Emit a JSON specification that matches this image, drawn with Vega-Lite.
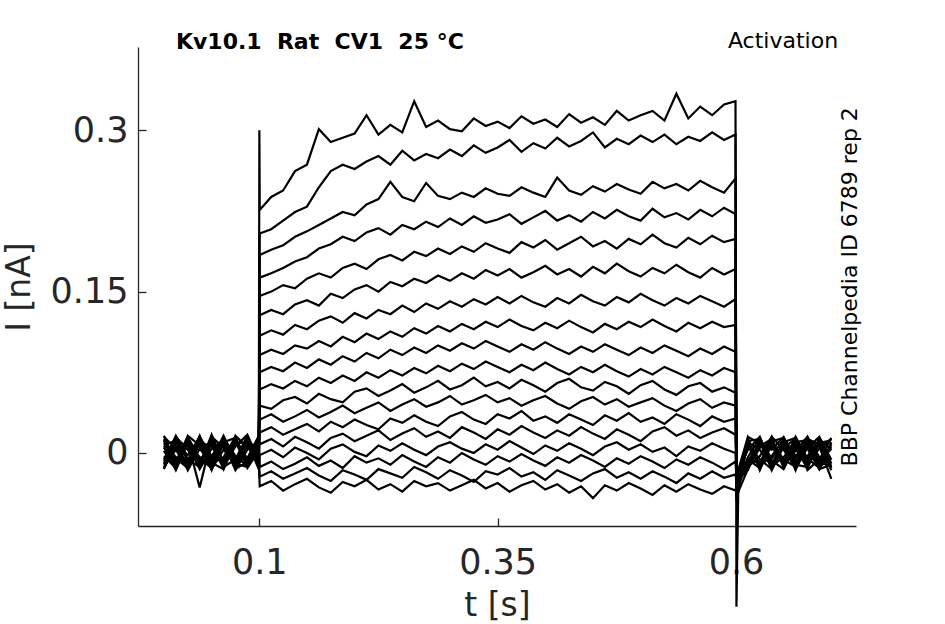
{
  "$schema": "https://vega.github.io/schema/vega-lite/v6.json",
  "width": 718,
  "height": 479,
  "autosize": {"type": "none"},
  "padding": {"left": 138, "top": 47, "right": 89, "bottom": 98},
  "config": {
    "view": {"stroke": null},
    "font": "DejaVu Sans",
    "axis": {
      "grid": false,
      "domainColor": "#262626",
      "domainWidth": 1.3,
      "tickColor": "#262626",
      "tickWidth": 1.3,
      "tickSize": -8,
      "labelColor": "#262626",
      "titleColor": "#262626",
      "labelFont": "DejaVu Sans",
      "titleFont": "DejaVu Sans",
      "labelFontSize": 35,
      "titleFontSize": 33,
      "titleFontWeight": "normal"
    }
  },
  "layer": [
    {
      "data": {"values": [
{"k":1,"t":0,"i":0.005},{"k":1,"t":0.0125,"i":-0.012},{"k":1,"t":0.025,"i":0.014},{"k":1,"t":0.0375,"i":-0.008},{"k":1,"t":0.05,"i":0.01},{"k":1,"t":0.0625,"i":-0.015},{"k":1,"t":0.075,"i":0.012},{"k":1,"t":0.0875,"i":-0.006},{"k":1,"t":0.0995,"i":0.009},{"k":1,"t":0.1001,"i":0.3},
{"k":1,"t":0.1005,"i":0.226},{"k":1,"t":0.1125,"i":0.238},{"k":1,"t":0.125,"i":0.244},{"k":1,"t":0.1375,"i":0.262},{"k":1,"t":0.15,"i":0.268},{"k":1,"t":0.1625,"i":0.301},{"k":1,"t":0.175,"i":0.289},{"k":1,"t":0.1875,"i":0.293},{"k":1,"t":0.2,"i":0.297},{"k":1,"t":0.2125,"i":0.314},{"k":1,"t":0.225,"i":0.296},{"k":1,"t":0.2375,"i":0.305},{"k":1,"t":0.25,"i":0.298},{"k":1,"t":0.2625,"i":0.327},{"k":1,"t":0.275,"i":0.303},{"k":1,"t":0.2875,"i":0.309},{"k":1,"t":0.3,"i":0.301},{"k":1,"t":0.3125,"i":0.299},{"k":1,"t":0.325,"i":0.311},{"k":1,"t":0.3375,"i":0.304},{"k":1,"t":0.35,"i":0.308},{"k":1,"t":0.3625,"i":0.302},{"k":1,"t":0.375,"i":0.313},{"k":1,"t":0.3875,"i":0.306},{"k":1,"t":0.4,"i":0.31},{"k":1,"t":0.4125,"i":0.303},{"k":1,"t":0.425,"i":0.315},{"k":1,"t":0.4375,"i":0.307},{"k":1,"t":0.45,"i":0.312},{"k":1,"t":0.4625,"i":0.305},{"k":1,"t":0.475,"i":0.318},{"k":1,"t":0.4875,"i":0.309},{"k":1,"t":0.5,"i":0.314},{"k":1,"t":0.5125,"i":0.318},{"k":1,"t":0.525,"i":0.309},{"k":1,"t":0.5375,"i":0.334},{"k":1,"t":0.55,"i":0.311},{"k":1,"t":0.5625,"i":0.322},{"k":1,"t":0.575,"i":0.314},{"k":1,"t":0.5875,"i":0.324},{"k":1,"t":0.5995,"i":0.327},
{"k":1,"t":0.6005,"i":-0.143},{"k":1,"t":0.6025,"i":-0.03},{"k":1,"t":0.6125,"i":-0.008},{"k":1,"t":0.625,"i":0.01},{"k":1,"t":0.6375,"i":-0.014},{"k":1,"t":0.65,"i":0.012},{"k":1,"t":0.6625,"i":-0.005},{"k":1,"t":0.675,"i":0.014},{"k":1,"t":0.6875,"i":-0.011},{"k":1,"t":0.7,"i":0.006},

{"k":2,"t":0,"i":-0.01},{"k":2,"t":0.0125,"i":0.013},{"k":2,"t":0.025,"i":-0.007},{"k":2,"t":0.0375,"i":0.016},{"k":2,"t":0.05,"i":-0.013},{"k":2,"t":0.0625,"i":0.008},{"k":2,"t":0.075,"i":-0.011},{"k":2,"t":0.0875,"i":0.015},{"k":2,"t":0.0995,"i":-0.004},
{"k":2,"t":0.1005,"i":0.204},{"k":2,"t":0.1125,"i":0.208},{"k":2,"t":0.125,"i":0.216},{"k":2,"t":0.1375,"i":0.224},{"k":2,"t":0.15,"i":0.229},{"k":2,"t":0.1625,"i":0.247},{"k":2,"t":0.175,"i":0.262},{"k":2,"t":0.1875,"i":0.268},{"k":2,"t":0.2,"i":0.264},{"k":2,"t":0.2125,"i":0.271},{"k":2,"t":0.225,"i":0.276},{"k":2,"t":0.2375,"i":0.268},{"k":2,"t":0.25,"i":0.281},{"k":2,"t":0.2625,"i":0.272},{"k":2,"t":0.275,"i":0.278},{"k":2,"t":0.2875,"i":0.274},{"k":2,"t":0.3,"i":0.282},{"k":2,"t":0.3125,"i":0.276},{"k":2,"t":0.325,"i":0.286},{"k":2,"t":0.3375,"i":0.279},{"k":2,"t":0.35,"i":0.284},{"k":2,"t":0.3625,"i":0.291},{"k":2,"t":0.375,"i":0.28},{"k":2,"t":0.3875,"i":0.288},{"k":2,"t":0.4,"i":0.283},{"k":2,"t":0.4125,"i":0.293},{"k":2,"t":0.425,"i":0.285},{"k":2,"t":0.4375,"i":0.29},{"k":2,"t":0.45,"i":0.298},{"k":2,"t":0.4625,"i":0.284},{"k":2,"t":0.475,"i":0.292},{"k":2,"t":0.4875,"i":0.287},{"k":2,"t":0.5,"i":0.295},{"k":2,"t":0.5125,"i":0.289},{"k":2,"t":0.525,"i":0.296},{"k":2,"t":0.5375,"i":0.287},{"k":2,"t":0.55,"i":0.294},{"k":2,"t":0.5625,"i":0.29},{"k":2,"t":0.575,"i":0.298},{"k":2,"t":0.5875,"i":0.291},{"k":2,"t":0.5995,"i":0.296},
{"k":2,"t":0.6005,"i":-0.045},{"k":2,"t":0.6125,"i":0.012},{"k":2,"t":0.625,"i":-0.013},{"k":2,"t":0.6375,"i":0.007},{"k":2,"t":0.65,"i":-0.009},{"k":2,"t":0.6625,"i":0.015},{"k":2,"t":0.675,"i":-0.006},{"k":2,"t":0.6875,"i":0.011},{"k":2,"t":0.7,"i":-0.014},

{"k":3,"t":0,"i":0.012},{"k":3,"t":0.0125,"i":-0.005},{"k":3,"t":0.025,"i":-0.014},{"k":3,"t":0.0375,"i":0.009},{"k":3,"t":0.05,"i":-0.008},{"k":3,"t":0.0625,"i":0.014},{"k":3,"t":0.075,"i":-0.003},{"k":3,"t":0.0875,"i":-0.012},{"k":3,"t":0.0995,"i":0.006},
{"k":3,"t":0.1005,"i":0.184},{"k":3,"t":0.1125,"i":0.189},{"k":3,"t":0.125,"i":0.193},{"k":3,"t":0.1375,"i":0.201},{"k":3,"t":0.15,"i":0.206},{"k":3,"t":0.1625,"i":0.212},{"k":3,"t":0.175,"i":0.218},{"k":3,"t":0.1875,"i":0.224},{"k":3,"t":0.2,"i":0.221},{"k":3,"t":0.2125,"i":0.231},{"k":3,"t":0.225,"i":0.236},{"k":3,"t":0.2375,"i":0.252},{"k":3,"t":0.25,"i":0.238},{"k":3,"t":0.2625,"i":0.234},{"k":3,"t":0.275,"i":0.251},{"k":3,"t":0.2875,"i":0.239},{"k":3,"t":0.3,"i":0.236},{"k":3,"t":0.3125,"i":0.242},{"k":3,"t":0.325,"i":0.238},{"k":3,"t":0.3375,"i":0.246},{"k":3,"t":0.35,"i":0.241},{"k":3,"t":0.3625,"i":0.239},{"k":3,"t":0.375,"i":0.247},{"k":3,"t":0.3875,"i":0.242},{"k":3,"t":0.4,"i":0.238},{"k":3,"t":0.4125,"i":0.256},{"k":3,"t":0.425,"i":0.244},{"k":3,"t":0.4375,"i":0.24},{"k":3,"t":0.45,"i":0.248},{"k":3,"t":0.4625,"i":0.243},{"k":3,"t":0.475,"i":0.25},{"k":3,"t":0.4875,"i":0.245},{"k":3,"t":0.5,"i":0.241},{"k":3,"t":0.5125,"i":0.252},{"k":3,"t":0.525,"i":0.246},{"k":3,"t":0.5375,"i":0.25},{"k":3,"t":0.55,"i":0.244},{"k":3,"t":0.5625,"i":0.253},{"k":3,"t":0.575,"i":0.247},{"k":3,"t":0.5875,"i":0.242},{"k":3,"t":0.5995,"i":0.255},
{"k":3,"t":0.6005,"i":-0.04},{"k":3,"t":0.6125,"i":-0.015},{"k":3,"t":0.625,"i":0.006},{"k":3,"t":0.6375,"i":0.013},{"k":3,"t":0.65,"i":-0.012},{"k":3,"t":0.6625,"i":0.004},{"k":3,"t":0.675,"i":-0.014},{"k":3,"t":0.6875,"i":0.009},{"k":3,"t":0.7,"i":0.012},

{"k":4,"t":0,"i":-0.006},{"k":4,"t":0.0125,"i":0.015},{"k":4,"t":0.025,"i":0.003},{"k":4,"t":0.0375,"i":-0.012},{"k":4,"t":0.05,"i":0.017},{"k":4,"t":0.0625,"i":-0.009},{"k":4,"t":0.075,"i":0.011},{"k":4,"t":0.0875,"i":-0.014},{"k":4,"t":0.0995,"i":0.002},
{"k":4,"t":0.1005,"i":0.163},{"k":4,"t":0.1125,"i":0.167},{"k":4,"t":0.125,"i":0.172},{"k":4,"t":0.1375,"i":0.178},{"k":4,"t":0.15,"i":0.182},{"k":4,"t":0.1625,"i":0.19},{"k":4,"t":0.175,"i":0.194},{"k":4,"t":0.1875,"i":0.201},{"k":4,"t":0.2,"i":0.197},{"k":4,"t":0.2125,"i":0.205},{"k":4,"t":0.225,"i":0.209},{"k":4,"t":0.2375,"i":0.203},{"k":4,"t":0.25,"i":0.212},{"k":4,"t":0.2625,"i":0.208},{"k":4,"t":0.275,"i":0.215},{"k":4,"t":0.2875,"i":0.21},{"k":4,"t":0.3,"i":0.218},{"k":4,"t":0.3125,"i":0.212},{"k":4,"t":0.325,"i":0.22},{"k":4,"t":0.3375,"i":0.214},{"k":4,"t":0.35,"i":0.217},{"k":4,"t":0.3625,"i":0.222},{"k":4,"t":0.375,"i":0.213},{"k":4,"t":0.3875,"i":0.219},{"k":4,"t":0.4,"i":0.225},{"k":4,"t":0.4125,"i":0.216},{"k":4,"t":0.425,"i":0.221},{"k":4,"t":0.4375,"i":0.215},{"k":4,"t":0.45,"i":0.224},{"k":4,"t":0.4625,"i":0.218},{"k":4,"t":0.475,"i":0.226},{"k":4,"t":0.4875,"i":0.22},{"k":4,"t":0.5,"i":0.216},{"k":4,"t":0.5125,"i":0.227},{"k":4,"t":0.525,"i":0.219},{"k":4,"t":0.5375,"i":0.223},{"k":4,"t":0.55,"i":0.217},{"k":4,"t":0.5625,"i":0.226},{"k":4,"t":0.575,"i":0.22},{"k":4,"t":0.5875,"i":0.228},{"k":4,"t":0.5995,"i":0.222},
{"k":4,"t":0.6005,"i":-0.038},{"k":4,"t":0.6125,"i":0.009},{"k":4,"t":0.625,"i":-0.006},{"k":4,"t":0.6375,"i":-0.015},{"k":4,"t":0.65,"i":0.011},{"k":4,"t":0.6625,"i":-0.01},{"k":4,"t":0.675,"i":0.015},{"k":4,"t":0.6875,"i":-0.004},{"k":4,"t":0.7,"i":-0.009},

{"k":5,"t":0,"i":0.016},{"k":5,"t":0.0125,"i":-0.009},{"k":5,"t":0.025,"i":0.008},{"k":5,"t":0.0375,"i":-0.015},{"k":5,"t":0.05,"i":0.004},{"k":5,"t":0.0625,"i":0.012},{"k":5,"t":0.075,"i":-0.013},{"k":5,"t":0.0875,"i":0.007},{"k":5,"t":0.0995,"i":-0.01},
{"k":5,"t":0.1005,"i":0.146},{"k":5,"t":0.1125,"i":0.15},{"k":5,"t":0.125,"i":0.156},{"k":5,"t":0.1375,"i":0.153},{"k":5,"t":0.15,"i":0.162},{"k":5,"t":0.1625,"i":0.167},{"k":5,"t":0.175,"i":0.163},{"k":5,"t":0.1875,"i":0.172},{"k":5,"t":0.2,"i":0.176},{"k":5,"t":0.2125,"i":0.171},{"k":5,"t":0.225,"i":0.18},{"k":5,"t":0.2375,"i":0.184},{"k":5,"t":0.25,"i":0.179},{"k":5,"t":0.2625,"i":0.187},{"k":5,"t":0.275,"i":0.183},{"k":5,"t":0.2875,"i":0.19},{"k":5,"t":0.3,"i":0.185},{"k":5,"t":0.3125,"i":0.192},{"k":5,"t":0.325,"i":0.187},{"k":5,"t":0.3375,"i":0.195},{"k":5,"t":0.35,"i":0.19},{"k":5,"t":0.3625,"i":0.186},{"k":5,"t":0.375,"i":0.196},{"k":5,"t":0.3875,"i":0.191},{"k":5,"t":0.4,"i":0.198},{"k":5,"t":0.4125,"i":0.189},{"k":5,"t":0.425,"i":0.195},{"k":5,"t":0.4375,"i":0.201},{"k":5,"t":0.45,"i":0.192},{"k":5,"t":0.4625,"i":0.197},{"k":5,"t":0.475,"i":0.19},{"k":5,"t":0.4875,"i":0.199},{"k":5,"t":0.5,"i":0.194},{"k":5,"t":0.5125,"i":0.203},{"k":5,"t":0.525,"i":0.195},{"k":5,"t":0.5375,"i":0.191},{"k":5,"t":0.55,"i":0.2},{"k":5,"t":0.5625,"i":0.194},{"k":5,"t":0.575,"i":0.202},{"k":5,"t":0.5875,"i":0.196},{"k":5,"t":0.5995,"i":0.199},
{"k":5,"t":0.6005,"i":-0.035},{"k":5,"t":0.6125,"i":-0.004},{"k":5,"t":0.625,"i":0.014},{"k":5,"t":0.6375,"i":-0.009},{"k":5,"t":0.65,"i":0.005},{"k":5,"t":0.6625,"i":0.013},{"k":5,"t":0.675,"i":-0.012},{"k":5,"t":0.6875,"i":0.014},{"k":5,"t":0.7,"i":-0.006},

{"k":6,"t":0,"i":-0.014},{"k":6,"t":0.0125,"i":0.006},{"k":6,"t":0.025,"i":-0.011},{"k":6,"t":0.0375,"i":0.012},{"k":6,"t":0.05,"i":-0.006},{"k":6,"t":0.0625,"i":0.016},{"k":6,"t":0.075,"i":-0.008},{"k":6,"t":0.0875,"i":0.013},{"k":6,"t":0.0995,"i":-0.012},
{"k":6,"t":0.1005,"i":0.128},{"k":6,"t":0.1125,"i":0.133},{"k":6,"t":0.125,"i":0.129},{"k":6,"t":0.1375,"i":0.138},{"k":6,"t":0.15,"i":0.142},{"k":6,"t":0.1625,"i":0.137},{"k":6,"t":0.175,"i":0.148},{"k":6,"t":0.1875,"i":0.144},{"k":6,"t":0.2,"i":0.152},{"k":6,"t":0.2125,"i":0.156},{"k":6,"t":0.225,"i":0.15},{"k":6,"t":0.2375,"i":0.159},{"k":6,"t":0.25,"i":0.155},{"k":6,"t":0.2625,"i":0.162},{"k":6,"t":0.275,"i":0.158},{"k":6,"t":0.2875,"i":0.165},{"k":6,"t":0.3,"i":0.16},{"k":6,"t":0.3125,"i":0.167},{"k":6,"t":0.325,"i":0.162},{"k":6,"t":0.3375,"i":0.17},{"k":6,"t":0.35,"i":0.165},{"k":6,"t":0.3625,"i":0.171},{"k":6,"t":0.375,"i":0.163},{"k":6,"t":0.3875,"i":0.168},{"k":6,"t":0.4,"i":0.174},{"k":6,"t":0.4125,"i":0.166},{"k":6,"t":0.425,"i":0.171},{"k":6,"t":0.4375,"i":0.164},{"k":6,"t":0.45,"i":0.173},{"k":6,"t":0.4625,"i":0.167},{"k":6,"t":0.475,"i":0.176},{"k":6,"t":0.4875,"i":0.169},{"k":6,"t":0.5,"i":0.164},{"k":6,"t":0.5125,"i":0.172},{"k":6,"t":0.525,"i":0.167},{"k":6,"t":0.5375,"i":0.175},{"k":6,"t":0.55,"i":0.168},{"k":6,"t":0.5625,"i":0.163},{"k":6,"t":0.575,"i":0.172},{"k":6,"t":0.5875,"i":0.166},{"k":6,"t":0.5995,"i":0.171},
{"k":6,"t":0.6005,"i":-0.032},{"k":6,"t":0.6125,"i":0.014},{"k":6,"t":0.625,"i":-0.016},{"k":6,"t":0.6375,"i":0.01},{"k":6,"t":0.65,"i":-0.006},{"k":6,"t":0.6625,"i":-0.013},{"k":6,"t":0.675,"i":0.008},{"k":6,"t":0.6875,"i":-0.015},{"k":6,"t":0.7,"i":0.01},

{"k":7,"t":0,"i":0.008},{"k":7,"t":0.0125,"i":0.011},{"k":7,"t":0.025,"i":-0.016},{"k":7,"t":0.0375,"i":0.004},{"k":7,"t":0.05,"i":-0.01},{"k":7,"t":0.0625,"i":-0.004},{"k":7,"t":0.075,"i":0.015},{"k":7,"t":0.0875,"i":-0.009},{"k":7,"t":0.0995,"i":0.014},
{"k":7,"t":0.1005,"i":0.109},{"k":7,"t":0.1125,"i":0.114},{"k":7,"t":0.125,"i":0.11},{"k":7,"t":0.1375,"i":0.119},{"k":7,"t":0.15,"i":0.115},{"k":7,"t":0.1625,"i":0.123},{"k":7,"t":0.175,"i":0.127},{"k":7,"t":0.1875,"i":0.121},{"k":7,"t":0.2,"i":0.13},{"k":7,"t":0.2125,"i":0.125},{"k":7,"t":0.225,"i":0.133},{"k":7,"t":0.2375,"i":0.129},{"k":7,"t":0.25,"i":0.137},{"k":7,"t":0.2625,"i":0.131},{"k":7,"t":0.275,"i":0.139},{"k":7,"t":0.2875,"i":0.134},{"k":7,"t":0.3,"i":0.141},{"k":7,"t":0.3125,"i":0.136},{"k":7,"t":0.325,"i":0.143},{"k":7,"t":0.3375,"i":0.138},{"k":7,"t":0.35,"i":0.145},{"k":7,"t":0.3625,"i":0.139},{"k":7,"t":0.375,"i":0.146},{"k":7,"t":0.3875,"i":0.14},{"k":7,"t":0.4,"i":0.136},{"k":7,"t":0.4125,"i":0.144},{"k":7,"t":0.425,"i":0.139},{"k":7,"t":0.4375,"i":0.147},{"k":7,"t":0.45,"i":0.141},{"k":7,"t":0.4625,"i":0.137},{"k":7,"t":0.475,"i":0.145},{"k":7,"t":0.4875,"i":0.14},{"k":7,"t":0.5,"i":0.148},{"k":7,"t":0.5125,"i":0.142},{"k":7,"t":0.525,"i":0.137},{"k":7,"t":0.5375,"i":0.144},{"k":7,"t":0.55,"i":0.139},{"k":7,"t":0.5625,"i":0.146},{"k":7,"t":0.575,"i":0.141},{"k":7,"t":0.5875,"i":0.136},{"k":7,"t":0.5995,"i":0.143},
{"k":7,"t":0.6005,"i":-0.03},{"k":7,"t":0.6125,"i":-0.011},{"k":7,"t":0.625,"i":0.008},{"k":7,"t":0.6375,"i":0.003},{"k":7,"t":0.65,"i":0.015},{"k":7,"t":0.6625,"i":-0.008},{"k":7,"t":0.675,"i":-0.003},{"k":7,"t":0.6875,"i":0.012},{"k":7,"t":0.7,"i":-0.013},

{"k":8,"t":0,"i":-0.003},{"k":8,"t":0.0125,"i":-0.014},{"k":8,"t":0.025,"i":0.01},{"k":8,"t":0.0375,"i":-0.032},{"k":8,"t":0.05,"i":0.013},{"k":8,"t":0.0625,"i":-0.012},{"k":8,"t":0.075,"i":0.006},{"k":8,"t":0.0875,"i":0.017},{"k":8,"t":0.0995,"i":-0.007},
{"k":8,"t":0.1005,"i":0.091},{"k":8,"t":0.1125,"i":0.096},{"k":8,"t":0.125,"i":0.092},{"k":8,"t":0.1375,"i":0.1},{"k":8,"t":0.15,"i":0.097},{"k":8,"t":0.1625,"i":0.104},{"k":8,"t":0.175,"i":0.099},{"k":8,"t":0.1875,"i":0.108},{"k":8,"t":0.2,"i":0.103},{"k":8,"t":0.2125,"i":0.111},{"k":8,"t":0.225,"i":0.106},{"k":8,"t":0.2375,"i":0.113},{"k":8,"t":0.25,"i":0.108},{"k":8,"t":0.2625,"i":0.116},{"k":8,"t":0.275,"i":0.111},{"k":8,"t":0.2875,"i":0.118},{"k":8,"t":0.3,"i":0.113},{"k":8,"t":0.3125,"i":0.12},{"k":8,"t":0.325,"i":0.115},{"k":8,"t":0.3375,"i":0.122},{"k":8,"t":0.35,"i":0.117},{"k":8,"t":0.3625,"i":0.124},{"k":8,"t":0.375,"i":0.118},{"k":8,"t":0.3875,"i":0.114},{"k":8,"t":0.4,"i":0.121},{"k":8,"t":0.4125,"i":0.116},{"k":8,"t":0.425,"i":0.123},{"k":8,"t":0.4375,"i":0.117},{"k":8,"t":0.45,"i":0.112},{"k":8,"t":0.4625,"i":0.12},{"k":8,"t":0.475,"i":0.115},{"k":8,"t":0.4875,"i":0.122},{"k":8,"t":0.5,"i":0.117},{"k":8,"t":0.5125,"i":0.124},{"k":8,"t":0.525,"i":0.118},{"k":8,"t":0.5375,"i":0.113},{"k":8,"t":0.55,"i":0.121},{"k":8,"t":0.5625,"i":0.116},{"k":8,"t":0.575,"i":0.122},{"k":8,"t":0.5875,"i":0.117},{"k":8,"t":0.5995,"i":0.119},
{"k":8,"t":0.6005,"i":-0.028},{"k":8,"t":0.6125,"i":0.006},{"k":8,"t":0.625,"i":-0.01},{"k":8,"t":0.6375,"i":0.015},{"k":8,"t":0.65,"i":-0.014},{"k":8,"t":0.6625,"i":0.01},{"k":8,"t":0.675,"i":0.012},{"k":8,"t":0.6875,"i":-0.008},{"k":8,"t":0.7,"i":0.004},

{"k":9,"t":0,"i":0.013},{"k":9,"t":0.0125,"i":-0.008},{"k":9,"t":0.025,"i":0.015},{"k":9,"t":0.0375,"i":-0.005},{"k":9,"t":0.05,"i":-0.014},{"k":9,"t":0.0625,"i":0.009},{"k":9,"t":0.075,"i":-0.016},{"k":9,"t":0.0875,"i":0.003},{"k":9,"t":0.0995,"i":0.011},
{"k":9,"t":0.1005,"i":0.075},{"k":9,"t":0.1125,"i":0.08},{"k":9,"t":0.125,"i":0.076},{"k":9,"t":0.1375,"i":0.084},{"k":9,"t":0.15,"i":0.079},{"k":9,"t":0.1625,"i":0.087},{"k":9,"t":0.175,"i":0.082},{"k":9,"t":0.1875,"i":0.09},{"k":9,"t":0.2,"i":0.085},{"k":9,"t":0.2125,"i":0.093},{"k":9,"t":0.225,"i":0.088},{"k":9,"t":0.2375,"i":0.096},{"k":9,"t":0.25,"i":0.091},{"k":9,"t":0.2625,"i":0.098},{"k":9,"t":0.275,"i":0.093},{"k":9,"t":0.2875,"i":0.1},{"k":9,"t":0.3,"i":0.095},{"k":9,"t":0.3125,"i":0.102},{"k":9,"t":0.325,"i":0.097},{"k":9,"t":0.3375,"i":0.104},{"k":9,"t":0.35,"i":0.099},{"k":9,"t":0.3625,"i":0.094},{"k":9,"t":0.375,"i":0.101},{"k":9,"t":0.3875,"i":0.096},{"k":9,"t":0.4,"i":0.103},{"k":9,"t":0.4125,"i":0.097},{"k":9,"t":0.425,"i":0.092},{"k":9,"t":0.4375,"i":0.099},{"k":9,"t":0.45,"i":0.094},{"k":9,"t":0.4625,"i":0.101},{"k":9,"t":0.475,"i":0.096},{"k":9,"t":0.4875,"i":0.091},{"k":9,"t":0.5,"i":0.098},{"k":9,"t":0.5125,"i":0.093},{"k":9,"t":0.525,"i":0.1},{"k":9,"t":0.5375,"i":0.095},{"k":9,"t":0.55,"i":0.09},{"k":9,"t":0.5625,"i":0.097},{"k":9,"t":0.575,"i":0.092},{"k":9,"t":0.5875,"i":0.099},{"k":9,"t":0.5995,"i":0.094},
{"k":9,"t":0.6005,"i":-0.026},{"k":9,"t":0.6125,"i":-0.016},{"k":9,"t":0.625,"i":0.012},{"k":9,"t":0.6375,"i":-0.005},{"k":9,"t":0.65,"i":0.008},{"k":9,"t":0.6625,"i":-0.015},{"k":9,"t":0.675,"i":0.005},{"k":9,"t":0.6875,"i":0.015},{"k":9,"t":0.7,"i":-0.01},

{"k":10,"t":0,"i":-0.011},{"k":10,"t":0.0125,"i":0.009},{"k":10,"t":0.025,"i":-0.002},{"k":10,"t":0.0375,"i":0.014},{"k":10,"t":0.05,"i":-0.009},{"k":10,"t":0.0625,"i":-0.015},{"k":10,"t":0.075,"i":0.01},{"k":10,"t":0.0875,"i":-0.005},{"k":10,"t":0.0995,"i":0.016},
{"k":10,"t":0.1005,"i":0.059},{"k":10,"t":0.1125,"i":0.064},{"k":10,"t":0.125,"i":0.06},{"k":10,"t":0.1375,"i":0.067},{"k":10,"t":0.15,"i":0.062},{"k":10,"t":0.1625,"i":0.07},{"k":10,"t":0.175,"i":0.065},{"k":10,"t":0.1875,"i":0.072},{"k":10,"t":0.2,"i":0.067},{"k":10,"t":0.2125,"i":0.075},{"k":10,"t":0.225,"i":0.07},{"k":10,"t":0.2375,"i":0.077},{"k":10,"t":0.25,"i":0.072},{"k":10,"t":0.2625,"i":0.079},{"k":10,"t":0.275,"i":0.074},{"k":10,"t":0.2875,"i":0.081},{"k":10,"t":0.3,"i":0.076},{"k":10,"t":0.3125,"i":0.083},{"k":10,"t":0.325,"i":0.078},{"k":10,"t":0.3375,"i":0.085},{"k":10,"t":0.35,"i":0.08},{"k":10,"t":0.3625,"i":0.075},{"k":10,"t":0.375,"i":0.082},{"k":10,"t":0.3875,"i":0.077},{"k":10,"t":0.4,"i":0.084},{"k":10,"t":0.4125,"i":0.078},{"k":10,"t":0.425,"i":0.073},{"k":10,"t":0.4375,"i":0.08},{"k":10,"t":0.45,"i":0.075},{"k":10,"t":0.4625,"i":0.082},{"k":10,"t":0.475,"i":0.076},{"k":10,"t":0.4875,"i":0.071},{"k":10,"t":0.5,"i":0.078},{"k":10,"t":0.5125,"i":0.073},{"k":10,"t":0.525,"i":0.08},{"k":10,"t":0.5375,"i":0.075},{"k":10,"t":0.55,"i":0.07},{"k":10,"t":0.5625,"i":0.077},{"k":10,"t":0.575,"i":0.072},{"k":10,"t":0.5875,"i":0.079},{"k":10,"t":0.5995,"i":0.075},
{"k":10,"t":0.6005,"i":-0.025},{"k":10,"t":0.6125,"i":0.01},{"k":10,"t":0.625,"i":0.003},{"k":10,"t":0.6375,"i":-0.012},{"k":10,"t":0.65,"i":-0.004},{"k":10,"t":0.6625,"i":0.012},{"k":10,"t":0.675,"i":-0.016},{"k":10,"t":0.6875,"i":-0.006},{"k":10,"t":0.7,"i":0.014},

{"k":11,"t":0,"i":0.002},{"k":11,"t":0.0125,"i":-0.015},{"k":11,"t":0.025,"i":0.012},{"k":11,"t":0.0375,"i":-0.01},{"k":11,"t":0.05,"i":0.015},{"k":11,"t":0.0625,"i":0.005},{"k":11,"t":0.075,"i":-0.012},{"k":11,"t":0.0875,"i":0.012},{"k":11,"t":0.0995,"i":-0.013},
{"k":11,"t":0.1005,"i":0.044},{"k":11,"t":0.1125,"i":0.041},{"k":11,"t":0.125,"i":0.049},{"k":11,"t":0.1375,"i":0.052},{"k":11,"t":0.15,"i":0.046},{"k":11,"t":0.1625,"i":0.055},{"k":11,"t":0.175,"i":0.05},{"k":11,"t":0.1875,"i":0.047},{"k":11,"t":0.2,"i":0.057},{"k":11,"t":0.2125,"i":0.06},{"k":11,"t":0.225,"i":0.053},{"k":11,"t":0.2375,"i":0.058},{"k":11,"t":0.25,"i":0.064},{"k":11,"t":0.2625,"i":0.056},{"k":11,"t":0.275,"i":0.061},{"k":11,"t":0.2875,"i":0.067},{"k":11,"t":0.3,"i":0.059},{"k":11,"t":0.3125,"i":0.063},{"k":11,"t":0.325,"i":0.07},{"k":11,"t":0.3375,"i":0.062},{"k":11,"t":0.35,"i":0.066},{"k":11,"t":0.3625,"i":0.06},{"k":11,"t":0.375,"i":0.068},{"k":11,"t":0.3875,"i":0.063},{"k":11,"t":0.4,"i":0.057},{"k":11,"t":0.4125,"i":0.065},{"k":11,"t":0.425,"i":0.069},{"k":11,"t":0.4375,"i":0.061},{"k":11,"t":0.45,"i":0.058},{"k":11,"t":0.4625,"i":0.066},{"k":11,"t":0.475,"i":0.062},{"k":11,"t":0.4875,"i":0.055},{"k":11,"t":0.5,"i":0.063},{"k":11,"t":0.5125,"i":0.067},{"k":11,"t":0.525,"i":0.059},{"k":11,"t":0.5375,"i":0.054},{"k":11,"t":0.55,"i":0.062},{"k":11,"t":0.5625,"i":0.065},{"k":11,"t":0.575,"i":0.057},{"k":11,"t":0.5875,"i":0.061},{"k":11,"t":0.5995,"i":0.056},
{"k":11,"t":0.6005,"i":-0.024},{"k":11,"t":0.6125,"i":-0.006},{"k":11,"t":0.625,"i":-0.014},{"k":11,"t":0.6375,"i":0.011},{"k":11,"t":0.65,"i":0.014},{"k":11,"t":0.6625,"i":-0.003},{"k":11,"t":0.675,"i":0.01},{"k":11,"t":0.6875,"i":-0.013},{"k":11,"t":0.7,"i":-0.005},

{"k":12,"t":0,"i":0.015},{"k":12,"t":0.0125,"i":0.004},{"k":12,"t":0.025,"i":-0.009},{"k":12,"t":0.0375,"i":0.011},{"k":12,"t":0.05,"i":-0.016},{"k":12,"t":0.0625,"i":0.01},{"k":12,"t":0.075,"i":0.014},{"k":12,"t":0.0875,"i":-0.011},{"k":12,"t":0.0995,"i":0.005},
{"k":12,"t":0.1005,"i":0.031},{"k":12,"t":0.1125,"i":0.036},{"k":12,"t":0.125,"i":0.029},{"k":12,"t":0.1375,"i":0.034},{"k":12,"t":0.15,"i":0.04},{"k":12,"t":0.1625,"i":0.033},{"k":12,"t":0.175,"i":0.038},{"k":12,"t":0.1875,"i":0.044},{"k":12,"t":0.2,"i":0.037},{"k":12,"t":0.2125,"i":0.042},{"k":12,"t":0.225,"i":0.047},{"k":12,"t":0.2375,"i":0.039},{"k":12,"t":0.25,"i":0.045},{"k":12,"t":0.2625,"i":0.05},{"k":12,"t":0.275,"i":0.043},{"k":12,"t":0.2875,"i":0.047},{"k":12,"t":0.3,"i":0.053},{"k":12,"t":0.3125,"i":0.045},{"k":12,"t":0.325,"i":0.049},{"k":12,"t":0.3375,"i":0.054},{"k":12,"t":0.35,"i":0.047},{"k":12,"t":0.3625,"i":0.051},{"k":12,"t":0.375,"i":0.044},{"k":12,"t":0.3875,"i":0.049},{"k":12,"t":0.4,"i":0.053},{"k":12,"t":0.4125,"i":0.046},{"k":12,"t":0.425,"i":0.041},{"k":12,"t":0.4375,"i":0.048},{"k":12,"t":0.45,"i":0.052},{"k":12,"t":0.4625,"i":0.045},{"k":12,"t":0.475,"i":0.05},{"k":12,"t":0.4875,"i":0.043},{"k":12,"t":0.5,"i":0.047},{"k":12,"t":0.5125,"i":0.051},{"k":12,"t":0.525,"i":0.044},{"k":12,"t":0.5375,"i":0.039},{"k":12,"t":0.55,"i":0.046},{"k":12,"t":0.5625,"i":0.05},{"k":12,"t":0.575,"i":0.042},{"k":12,"t":0.5875,"i":0.047},{"k":12,"t":0.5995,"i":0.044},
{"k":12,"t":0.6005,"i":-0.022},{"k":12,"t":0.6125,"i":0.015},{"k":12,"t":0.625,"i":0.009},{"k":12,"t":0.6375,"i":-0.007},{"k":12,"t":0.65,"i":-0.015},{"k":12,"t":0.6625,"i":0.007},{"k":12,"t":0.675,"i":-0.009},{"k":12,"t":0.6875,"i":0.004},{"k":12,"t":0.7,"i":0.013},

{"k":13,"t":0,"i":-0.015},{"k":13,"t":0.0125,"i":0.012},{"k":13,"t":0.025,"i":0.006},{"k":13,"t":0.0375,"i":-0.007},{"k":13,"t":0.05,"i":0.008},{"k":13,"t":0.0625,"i":-0.013},{"k":13,"t":0.075,"i":-0.006},{"k":13,"t":0.0875,"i":0.016},{"k":13,"t":0.0995,"i":-0.009},
{"k":13,"t":0.1005,"i":0.019},{"k":13,"t":0.1125,"i":0.024},{"k":13,"t":0.125,"i":0.017},{"k":13,"t":0.1375,"i":0.022},{"k":13,"t":0.15,"i":0.027},{"k":13,"t":0.1625,"i":0.02},{"k":13,"t":0.175,"i":0.029},{"k":13,"t":0.1875,"i":0.024},{"k":13,"t":0.2,"i":0.031},{"k":13,"t":0.2125,"i":0.026},{"k":13,"t":0.225,"i":0.022},{"k":13,"t":0.2375,"i":0.032},{"k":13,"t":0.25,"i":0.028},{"k":13,"t":0.2625,"i":0.035},{"k":13,"t":0.275,"i":0.029},{"k":13,"t":0.2875,"i":0.025},{"k":13,"t":0.3,"i":0.034},{"k":13,"t":0.3125,"i":0.038},{"k":13,"t":0.325,"i":0.031},{"k":13,"t":0.3375,"i":0.027},{"k":13,"t":0.35,"i":0.036},{"k":13,"t":0.3625,"i":0.032},{"k":13,"t":0.375,"i":0.039},{"k":13,"t":0.3875,"i":0.03},{"k":13,"t":0.4,"i":0.034},{"k":13,"t":0.4125,"i":0.028},{"k":13,"t":0.425,"i":0.036},{"k":13,"t":0.4375,"i":0.031},{"k":13,"t":0.45,"i":0.026},{"k":13,"t":0.4625,"i":0.035},{"k":13,"t":0.475,"i":0.03},{"k":13,"t":0.4875,"i":0.037},{"k":13,"t":0.5,"i":0.029},{"k":13,"t":0.5125,"i":0.033},{"k":13,"t":0.525,"i":0.027},{"k":13,"t":0.5375,"i":0.036},{"k":13,"t":0.55,"i":0.031},{"k":13,"t":0.5625,"i":0.025},{"k":13,"t":0.575,"i":0.034},{"k":13,"t":0.5875,"i":0.029},{"k":13,"t":0.5995,"i":0.032},
{"k":13,"t":0.6005,"i":-0.021},{"k":13,"t":0.6125,"i":-0.013},{"k":13,"t":0.625,"i":-0.003},{"k":13,"t":0.6375,"i":0.015},{"k":13,"t":0.65,"i":0.003},{"k":13,"t":0.6625,"i":-0.014},{"k":13,"t":0.675,"i":0.013},{"k":13,"t":0.6875,"i":0.008},{"k":13,"t":0.7,"i":-0.016},

{"k":14,"t":0,"i":0.009},{"k":14,"t":0.0125,"i":-0.004},{"k":14,"t":0.025,"i":-0.012},{"k":14,"t":0.0375,"i":0.015},{"k":14,"t":0.05,"i":-0.003},{"k":14,"t":0.0625,"i":0.013},{"k":14,"t":0.075,"i":-0.015},{"k":14,"t":0.0875,"i":-0.008},{"k":14,"t":0.0995,"i":0.013},
{"k":14,"t":0.1005,"i":0.008},{"k":14,"t":0.1125,"i":0.013},{"k":14,"t":0.125,"i":0.006},{"k":14,"t":0.1375,"i":0.015},{"k":14,"t":0.15,"i":0.01},{"k":14,"t":0.1625,"i":0.004},{"k":14,"t":0.175,"i":0.014},{"k":14,"t":0.1875,"i":0.018},{"k":14,"t":0.2,"i":0.011},{"k":14,"t":0.2125,"i":0.016},{"k":14,"t":0.225,"i":0.021},{"k":14,"t":0.2375,"i":0.012},{"k":14,"t":0.25,"i":0.018},{"k":14,"t":0.2625,"i":0.023},{"k":14,"t":0.275,"i":0.015},{"k":14,"t":0.2875,"i":0.02},{"k":14,"t":0.3,"i":0.014},{"k":14,"t":0.3125,"i":0.024},{"k":14,"t":0.325,"i":0.019},{"k":14,"t":0.3375,"i":0.013},{"k":14,"t":0.35,"i":0.022},{"k":14,"t":0.3625,"i":0.017},{"k":14,"t":0.375,"i":0.025},{"k":14,"t":0.3875,"i":0.019},{"k":14,"t":0.4,"i":0.014},{"k":14,"t":0.4125,"i":0.021},{"k":14,"t":0.425,"i":0.016},{"k":14,"t":0.4375,"i":0.024},{"k":14,"t":0.45,"i":0.018},{"k":14,"t":0.4625,"i":0.013},{"k":14,"t":0.475,"i":0.022},{"k":14,"t":0.4875,"i":0.017},{"k":14,"t":0.5,"i":0.011},{"k":14,"t":0.5125,"i":0.02},{"k":14,"t":0.525,"i":0.024},{"k":14,"t":0.5375,"i":0.016},{"k":14,"t":0.55,"i":0.021},{"k":14,"t":0.5625,"i":0.014},{"k":14,"t":0.575,"i":0.019},{"k":14,"t":0.5875,"i":0.023},{"k":14,"t":0.5995,"i":0.017},
{"k":14,"t":0.6005,"i":-0.02},{"k":14,"t":0.6125,"i":0.003},{"k":14,"t":0.625,"i":0.015},{"k":14,"t":0.6375,"i":-0.011},{"k":14,"t":0.65,"i":0.01},{"k":14,"t":0.6625,"i":0.014},{"k":14,"t":0.675,"i":-0.005},{"k":14,"t":0.6875,"i":-0.014},{"k":14,"t":0.7,"i":0.008},

{"k":15,"t":0,"i":-0.008},{"k":15,"t":0.0125,"i":0.016},{"k":15,"t":0.025,"i":-0.006},{"k":15,"t":0.0375,"i":-0.013},{"k":15,"t":0.05,"i":0.011},{"k":15,"t":0.0625,"i":-0.007},{"k":15,"t":0.075,"i":0.009},{"k":15,"t":0.0875,"i":0.01},{"k":15,"t":0.0995,"i":-0.015},
{"k":15,"t":0.1005,"i":-0.002},{"k":15,"t":0.1125,"i":0.003},{"k":15,"t":0.125,"i":-0.004},{"k":15,"t":0.1375,"i":0.005},{"k":15,"t":0.15,"i":0},{"k":15,"t":0.1625,"i":-0.006},{"k":15,"t":0.175,"i":0.004},{"k":15,"t":0.1875,"i":0.008},{"k":15,"t":0.2,"i":0.001},{"k":15,"t":0.2125,"i":-0.003},{"k":15,"t":0.225,"i":0.007},{"k":15,"t":0.2375,"i":0.002},{"k":15,"t":0.25,"i":0.009},{"k":15,"t":0.2625,"i":0.003},{"k":15,"t":0.275,"i":-0.002},{"k":15,"t":0.2875,"i":0.006},{"k":15,"t":0.3,"i":0.01},{"k":15,"t":0.3125,"i":0.004},{"k":15,"t":0.325,"i":0},{"k":15,"t":0.3375,"i":0.008},{"k":15,"t":0.35,"i":0.003},{"k":15,"t":0.3625,"i":0.011},{"k":15,"t":0.375,"i":0.005},{"k":15,"t":0.3875,"i":-0.001},{"k":15,"t":0.4,"i":0.007},{"k":15,"t":0.4125,"i":0.002},{"k":15,"t":0.425,"i":0.009},{"k":15,"t":0.4375,"i":0.004},{"k":15,"t":0.45,"i":-0.002},{"k":15,"t":0.4625,"i":0.006},{"k":15,"t":0.475,"i":0.01},{"k":15,"t":0.4875,"i":0.003},{"k":15,"t":0.5,"i":0.008},{"k":15,"t":0.5125,"i":0.001},{"k":15,"t":0.525,"i":0.005},{"k":15,"t":0.5375,"i":-0.003},{"k":15,"t":0.55,"i":0.006},{"k":15,"t":0.5625,"i":0.002},{"k":15,"t":0.575,"i":0.009},{"k":15,"t":0.5875,"i":0.004},{"k":15,"t":0.5995,"i":0},
{"k":15,"t":0.6005,"i":-0.02},{"k":15,"t":0.6125,"i":-0.009},{"k":15,"t":0.625,"i":-0.008},{"k":15,"t":0.6375,"i":0.006},{"k":15,"t":0.65,"i":-0.011},{"k":15,"t":0.6625,"i":0.002},{"k":15,"t":0.675,"i":0.015},{"k":15,"t":0.6875,"i":-0.009},{"k":15,"t":0.7,"i":-0.012},

{"k":16,"t":0,"i":0.011},{"k":16,"t":0.0125,"i":-0.011},{"k":16,"t":0.025,"i":0.016},{"k":16,"t":0.0375,"i":0.007},{"k":16,"t":0.05,"i":-0.015},{"k":16,"t":0.0625,"i":0.003},{"k":16,"t":0.075,"i":-0.01},{"k":16,"t":0.0875,"i":-0.013},{"k":16,"t":0.0995,"i":0.008},
{"k":16,"t":0.1005,"i":-0.013},{"k":16,"t":0.1125,"i":-0.008},{"k":16,"t":0.125,"i":-0.015},{"k":16,"t":0.1375,"i":-0.01},{"k":16,"t":0.15,"i":-0.004},{"k":16,"t":0.1625,"i":-0.012},{"k":16,"t":0.175,"i":-0.007},{"k":16,"t":0.1875,"i":-0.014},{"k":16,"t":0.2,"i":-0.003},{"k":16,"t":0.2125,"i":-0.009},{"k":16,"t":0.225,"i":-0.005},{"k":16,"t":0.2375,"i":-0.011},{"k":16,"t":0.25,"i":-0.002},{"k":16,"t":0.2625,"i":-0.008},{"k":16,"t":0.275,"i":-0.013},{"k":16,"t":0.2875,"i":-0.004},{"k":16,"t":0.3,"i":-0.009},{"k":16,"t":0.3125,"i":0},{"k":16,"t":0.325,"i":-0.006},{"k":16,"t":0.3375,"i":-0.011},{"k":16,"t":0.35,"i":-0.003},{"k":16,"t":0.3625,"i":-0.008},{"k":16,"t":0.375,"i":-0.001},{"k":16,"t":0.3875,"i":-0.007},{"k":16,"t":0.4,"i":-0.012},{"k":16,"t":0.4125,"i":-0.004},{"k":16,"t":0.425,"i":-0.009},{"k":16,"t":0.4375,"i":-0.002},{"k":16,"t":0.45,"i":-0.007},{"k":16,"t":0.4625,"i":-0.013},{"k":16,"t":0.475,"i":-0.005},{"k":16,"t":0.4875,"i":-0.01},{"k":16,"t":0.5,"i":-0.003},{"k":16,"t":0.5125,"i":-0.008},{"k":16,"t":0.525,"i":-0.014},{"k":16,"t":0.5375,"i":-0.006},{"k":16,"t":0.55,"i":-0.011},{"k":16,"t":0.5625,"i":-0.004},{"k":16,"t":0.575,"i":-0.009},{"k":16,"t":0.5875,"i":-0.015},{"k":16,"t":0.5995,"i":-0.008},
{"k":16,"t":0.6005,"i":-0.022},{"k":16,"t":0.6125,"i":0.011},{"k":16,"t":0.625,"i":0.013},{"k":16,"t":0.6375,"i":-0.016},{"k":16,"t":0.65,"i":0.006},{"k":16,"t":0.6625,"i":-0.011},{"k":16,"t":0.675,"i":-0.013},{"k":16,"t":0.6875,"i":0.013},{"k":16,"t":0.7,"i":0.003},

{"k":17,"t":0,"i":-0.013},{"k":17,"t":0.0125,"i":0.003},{"k":17,"t":0.025,"i":-0.015},{"k":17,"t":0.0375,"i":0.01},{"k":17,"t":0.05,"i":0.006},{"k":17,"t":0.0625,"i":-0.011},{"k":17,"t":0.075,"i":0.016},{"k":17,"t":0.0875,"i":0.005},{"k":17,"t":0.0995,"i":-0.005},
{"k":17,"t":0.1005,"i":-0.022},{"k":17,"t":0.1125,"i":-0.017},{"k":17,"t":0.125,"i":-0.024},{"k":17,"t":0.1375,"i":-0.019},{"k":17,"t":0.15,"i":-0.014},{"k":17,"t":0.1625,"i":-0.021},{"k":17,"t":0.175,"i":-0.026},{"k":17,"t":0.1875,"i":-0.016},{"k":17,"t":0.2,"i":-0.02},{"k":17,"t":0.2125,"i":-0.025},{"k":17,"t":0.225,"i":-0.015},{"k":17,"t":0.2375,"i":-0.019},{"k":17,"t":0.25,"i":-0.023},{"k":17,"t":0.2625,"i":-0.013},{"k":17,"t":0.275,"i":-0.018},{"k":17,"t":0.2875,"i":-0.024},{"k":17,"t":0.3,"i":-0.016},{"k":17,"t":0.3125,"i":-0.021},{"k":17,"t":0.325,"i":-0.027},{"k":17,"t":0.3375,"i":-0.017},{"k":17,"t":0.35,"i":-0.02},{"k":17,"t":0.3625,"i":-0.014},{"k":17,"t":0.375,"i":-0.022},{"k":17,"t":0.3875,"i":-0.018},{"k":17,"t":0.4,"i":-0.025},{"k":17,"t":0.4125,"i":-0.016},{"k":17,"t":0.425,"i":-0.021},{"k":17,"t":0.4375,"i":-0.026},{"k":17,"t":0.45,"i":-0.019},{"k":17,"t":0.4625,"i":-0.015},{"k":17,"t":0.475,"i":-0.023},{"k":17,"t":0.4875,"i":-0.018},{"k":17,"t":0.5,"i":-0.024},{"k":17,"t":0.5125,"i":-0.017},{"k":17,"t":0.525,"i":-0.022},{"k":17,"t":0.5375,"i":-0.028},{"k":17,"t":0.55,"i":-0.019},{"k":17,"t":0.5625,"i":-0.024},{"k":17,"t":0.575,"i":-0.017},{"k":17,"t":0.5875,"i":-0.023},{"k":17,"t":0.5995,"i":-0.02},
{"k":17,"t":0.6005,"i":-0.026},{"k":17,"t":0.6125,"i":-0.014},{"k":17,"t":0.625,"i":0.005},{"k":17,"t":0.6375,"i":0.009},{"k":17,"t":0.65,"i":-0.008},{"k":17,"t":0.6625,"i":0.008},{"k":17,"t":0.675,"i":0.004},{"k":17,"t":0.6875,"i":-0.015},{"k":17,"t":0.7,"i":-0.011},

{"k":18,"t":0,"i":0.007},{"k":18,"t":0.0125,"i":-0.016},{"k":18,"t":0.025,"i":0.009},{"k":18,"t":0.0375,"i":-0.004},{"k":18,"t":0.05,"i":-0.012},{"k":18,"t":0.0625,"i":0.015},{"k":18,"t":0.075,"i":-0.007},{"k":18,"t":0.0875,"i":0.011},{"k":18,"t":0.0995,"i":-0.011},
{"k":18,"t":0.1005,"i":-0.031},{"k":18,"t":0.1125,"i":-0.026},{"k":18,"t":0.125,"i":-0.035},{"k":18,"t":0.1375,"i":-0.029},{"k":18,"t":0.15,"i":-0.024},{"k":18,"t":0.1625,"i":-0.032},{"k":18,"t":0.175,"i":-0.037},{"k":18,"t":0.1875,"i":-0.027},{"k":18,"t":0.2,"i":-0.031},{"k":18,"t":0.2125,"i":-0.025},{"k":18,"t":0.225,"i":-0.034},{"k":18,"t":0.2375,"i":-0.029},{"k":18,"t":0.25,"i":-0.036},{"k":18,"t":0.2625,"i":-0.026},{"k":18,"t":0.275,"i":-0.031},{"k":18,"t":0.2875,"i":-0.028},{"k":18,"t":0.3,"i":-0.035},{"k":18,"t":0.3125,"i":-0.03},{"k":18,"t":0.325,"i":-0.025},{"k":18,"t":0.3375,"i":-0.033},{"k":18,"t":0.35,"i":-0.028},{"k":18,"t":0.3625,"i":-0.036},{"k":18,"t":0.375,"i":-0.03},{"k":18,"t":0.3875,"i":-0.026},{"k":18,"t":0.4,"i":-0.034},{"k":18,"t":0.4125,"i":-0.029},{"k":18,"t":0.425,"i":-0.037},{"k":18,"t":0.4375,"i":-0.031},{"k":18,"t":0.45,"i":-0.042},{"k":18,"t":0.4625,"i":-0.03},{"k":18,"t":0.475,"i":-0.035},{"k":18,"t":0.4875,"i":-0.028},{"k":18,"t":0.5,"i":-0.033},{"k":18,"t":0.5125,"i":-0.039},{"k":18,"t":0.525,"i":-0.03},{"k":18,"t":0.5375,"i":-0.036},{"k":18,"t":0.55,"i":-0.029},{"k":18,"t":0.5625,"i":-0.034},{"k":18,"t":0.575,"i":-0.038},{"k":18,"t":0.5875,"i":-0.031},{"k":18,"t":0.5995,"i":-0.035},
{"k":18,"t":0.6005,"i":-0.03},{"k":18,"t":0.6125,"i":0.008},{"k":18,"t":0.625,"i":-0.012},{"k":18,"t":0.6375,"i":-0.003},{"k":18,"t":0.65,"i":0.013},{"k":18,"t":0.6625,"i":-0.016},{"k":18,"t":0.675,"i":0.011},{"k":18,"t":0.6875,"i":0.006},{"k":18,"t":0.7,"i":-0.024}
      ]},
      "mark": {"type": "line", "color": "black", "strokeWidth": 2.2, "strokeJoin": "miter"},
      "encoding": {
        "x": {
          "field": "t",
          "type": "quantitative",
          "scale": {"domain": [-0.0272, 0.7259], "nice": false, "zero": false},
          "axis": {"values": [0.1, 0.35, 0.6], "format": "~g", "title": "t [s]", "labelPadding": 27, "titlePadding": 9}
        },
        "y": {
          "field": "i",
          "type": "quantitative",
          "scale": {"domain": [-0.0679, 0.3774], "nice": false, "zero": false},
          "axis": {"values": [0, 0.15, 0.3], "format": "~g", "title": "I [nA]", "labelPadding": 18, "titlePadding": 14}
        },
        "detail": {"field": "k", "type": "nominal"}
      }
    },
    {
      "data": {"values": [{}]},
      "mark": {"type": "text", "text": "Kv10.1\u00a0\u00a0Rat\u00a0\u00a0CV1\u00a0\u00a025 °C", "font": "DejaVu Sans", "fontSize": 22, "fontWeight": "bold", "align": "left", "baseline": "middle", "color": "black"},
      "encoding": {"x": {"datum": 0.0126}, "y": {"datum": 0.3817}}
    },
    {
      "data": {"values": [{}]},
      "mark": {"type": "text", "text": "Activation", "font": "DejaVu Sans", "fontSize": 22, "align": "left", "baseline": "middle", "color": "black"},
      "encoding": {"x": {"datum": 0.5916}, "y": {"datum": 0.3827}}
    },
    {
      "data": {"values": [{}]},
      "mark": {"type": "text", "text": "BBP Channelpedia ID 6789 rep 2", "font": "DejaVu Sans", "fontSize": 22, "angle": 270, "align": "center", "baseline": "middle", "color": "black"},
      "encoding": {"x": {"datum": 0.7192}, "y": {"datum": 0.1545}}
    }
  ]
}
